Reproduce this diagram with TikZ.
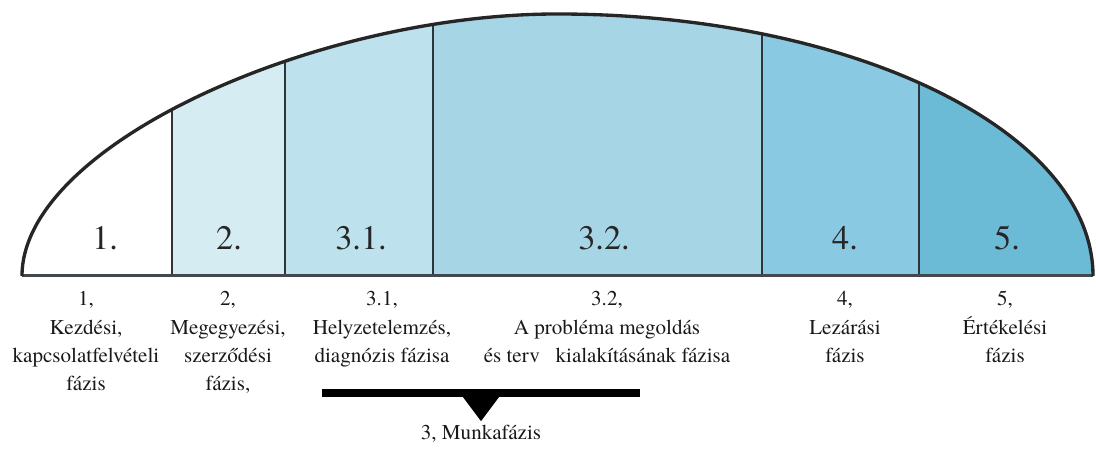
\documentclass[tikz,border=0pt]{standalone}
\usepackage{fontspec}
\setmainfont{texgyretermes}[Extension=.otf,UprightFont=*-regular,BoldFont=*-bold,ItalicFont=*-italic,BoldItalicFont=*-bolditalic]
\definecolor{ctwo}{HTML}{D6ECF3}
\definecolor{cthreeone}{HTML}{BDE1ED}
\definecolor{cthreetwo}{HTML}{A6D5E6}
\definecolor{cfour}{HTML}{89C9E1}
\definecolor{cfive}{HTML}{6BBAD6}
\definecolor{divgray}{HTML}{2E3438}
\tikzset{
  bignum/.style={font=\fontsize{19.5}{22}\selectfont, text=black!85, anchor=base, inner sep=0pt},
  lbl/.style={font=\fontsize{12}{16}\selectfont, anchor=base, inner sep=0pt, text=black!90},
  divider/.style={draw=divgray, line width=1.1pt},
  domeline/.style={draw=black!85, line width=1.9pt},
  baseln/.style={draw=divgray!90, line width=1.7pt},
}
\newcommand{\lines}[1]{{\renewcommand{\arraystretch}{1.0}\setlength{\tabcolsep}{0pt}\begin{tabular}[t]{c}#1\end{tabular}}}
\begin{document}
\begin{tikzpicture}[x=0.02cm,y=0.02cm]
\useasboundingbox (0,0) rectangle (1096,452);
\def\dome{(22,176) .. controls (22,307) and (316,438) .. (557,438) arc[start angle=90,end angle=0,x radius=536,y radius=262]}
\begin{scope}
  \clip \dome -- cycle;
  \fill[ctwo] (172,170) rectangle (285,445);
  \fill[cthreeone] (285,170) rectangle (433,445);
  \fill[cthreetwo] (433,170) rectangle (762,445);
  \fill[cfour] (762,170) rectangle (919,445);
  \fill[cfive] (919,170) rectangle (1096,445);
  \draw[divider] (172,176) -- (172,445);
  \draw[divider] (285,176) -- (285,445);
  \draw[divider] (433,176) -- (433,445);
  \draw[divider] (762,176) -- (762,445);
  \draw[divider] (919,176) -- (919,445);
\end{scope}
\draw[baseln] (22,176) -- (1093,176);
\draw[domeline] \dome;
% big numbers
\node[bignum] (n1) at (105,202) {1.};
\node[bignum] (n2) at (229,202) {2.};
\node[bignum] (n31) at (361,202) {3.1.};
\node[bignum] (n32) at (604,202) {3.2.};
\node[bignum] (n4) at (845,202) {4.};
\node[bignum] (n5) at (1007,202) {5.};
% labels
\node[lbl] (l1) at (86,146) {\lines{1,\\Kezdési,\\kapcsolatfelvételi\\fázis}};
\node[lbl] (l2) at (228,146) {\lines{2,\\Megegyezési,\\szerződési\\fázis,}};
\node[lbl] (l31) at (382,146) {\lines{3.1,\\Helyzetelemzés,\\diagnózis fázisa}};
\node[lbl] (l32) at (607,146) {\lines{3.2,\\A probléma megoldás\\és terv\hspace{0.75em}kialakításának fázisa}};
\node[lbl] (l4) at (845,146) {\lines{4,\\Lezárási\\fázis}};
\node[lbl] (l5) at (1005,146) {\lines{5,\\Értékelési\\fázis}};
% bracket
\coordinate (bl) at (322,59);
\coordinate (br) at (640,59);
\coordinate (bm) at (481,59);
\draw[line width=4.2pt] (bl) -- (br);
\fill ([xshift=-12]bm) -- ([xshift=12]bm) -- ([yshift=-16]bm) -- cycle;
\node[lbl] (mf) at (481,12) {3, Munkafázis};
\end{tikzpicture}
\end{document}
